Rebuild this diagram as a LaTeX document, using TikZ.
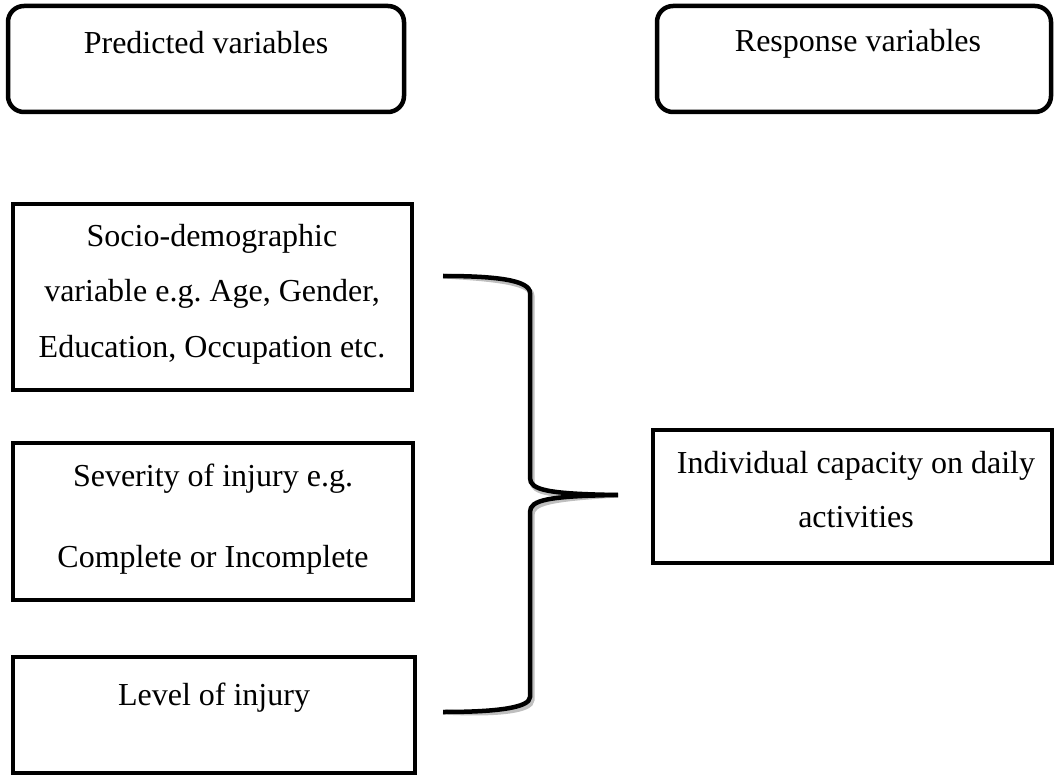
\documentclass[tikz,border=0pt]{standalone}
\usepackage{fontspec}
\setmainfont{Liberation Serif}
\frenchspacing
\begin{document}
\begin{tikzpicture}[x=1pt,y=-1pt,
  box/.style={draw=black, line width=4.5pt, inner sep=0pt},
  rbox/.style={box, rounded corners=16pt},
  txt/.style={font=\fontsize{32}{55}\selectfont, anchor=base, inner sep=0pt},
  bracestroke/.style={draw=black, line width=4.5pt},
  braceshadow/.style={draw=black!25, line width=5pt},
]
\useasboundingbox (0,0) rectangle (1054,775);

% boxes
\node[rbox, minimum width=396pt, minimum height=106pt] (pv) at (206,59) {};
\node[rbox, minimum width=394pt, minimum height=106pt] (rv) at (854,59) {};
\node[box, minimum width=399pt, minimum height=186pt] (socio) at (212.5,297) {};
\node[box, minimum width=400pt, minimum height=157pt] (sev) at (213,521.5) {};
\node[box, minimum width=402pt, minimum height=116pt] (lvl) at (214,715) {};
\node[box, minimum width=399pt, minimum height=133pt] (ind) at (852.5,496.5) {};

% texts
\node[txt] (pvt) at (206,54) {Predicted variables};
\node[txt] (rvt) at (858,52) {Response variables};
\node[txt] (so1) at (212,247) {Socio-demographic};
\node[txt] (so2) at (212,302) {variable e.g. Age, Gender,};
\node[txt] (so3) at (212,357) {Education, Occupation etc.};
\node[txt] (se1) at (213,486) {Severity of injury e.g.};
\node[txt] (se2) at (213,567) {Complete or Incomplete};
\node[txt] (lv1) at (214,705) {Level of injury};
\node[txt] (in1) at (856,473) {Individual capacity on daily};
\node[txt] (in2) at (856,527) {activities};

% brace
\coordinate (bt) at (443,276);
\coordinate (bb) at (443,712);
\coordinate (tip) at (618,495);
\begin{scope}[shift={(2,3)}]
\draw[braceshadow] (bt) .. controls (495,276) and (530,280) .. (530,293)
  -- (530,478) .. controls (530,490) and (548,494) .. (tip)
  .. controls (548,496) and (530,500) .. (530,512)
  -- (530,697) .. controls (530,708) and (495,712) .. (bb);
\end{scope}
\draw[bracestroke] (bt) .. controls (495,276) and (530,280) .. (530,293)
  -- (530,478) .. controls (530,490) and (548,494) .. (tip)
  .. controls (548,496) and (530,500) .. (530,512)
  -- (530,697) .. controls (530,708) and (495,712) .. (bb);
\end{tikzpicture}
\end{document}
